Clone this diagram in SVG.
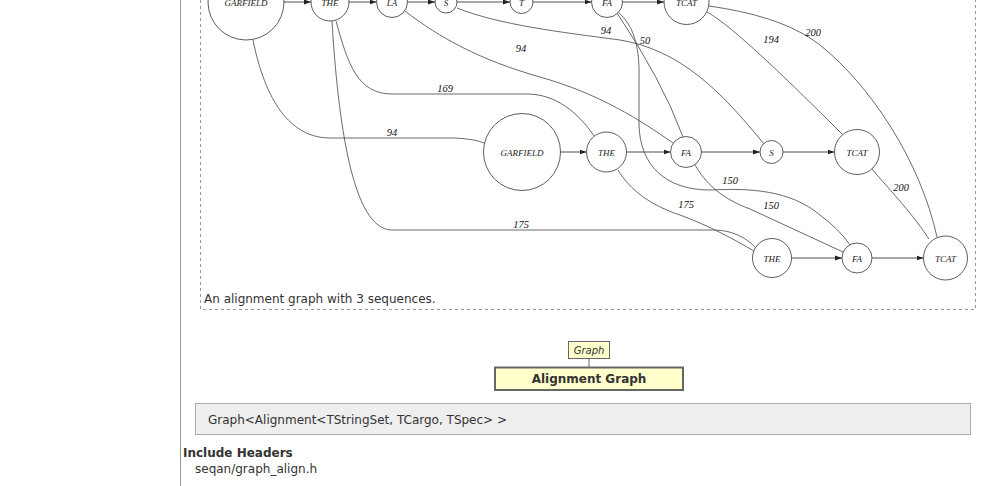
<svg xmlns="http://www.w3.org/2000/svg" width="1008" height="486" viewBox="0 0 1008 486">
<defs>
<style>
.n circle{fill:#fff;stroke:#333;stroke-width:0.8}
.n text{font-family:"Liberation Serif",serif;font-style:italic;font-size:9px;fill:#222;text-anchor:middle}
.arr line{stroke:#222;stroke-width:0.8;marker-end:url(#ah)}
.e path{fill:none;stroke:#444;stroke-width:0.8}
.lbl{font-family:"Liberation Serif",serif;font-style:italic;font-size:10.5px;fill:#111;text-anchor:middle}
.sans{font-family:"DejaVu Sans",Verdana,sans-serif;fill:#333}
</style>
<marker id="ah" markerWidth="7" markerHeight="6" refX="7" refY="3" orient="auto" markerUnits="userSpaceOnUse">
<path d="M0,0.5 L7,3 L0,5.5 Z" fill="#222"/>
</marker>
</defs>
<rect width="1008" height="486" fill="#fff"/>
<line x1="180.5" y1="0" x2="180.5" y2="486" stroke="#999" stroke-width="1"/>
<path d="M200.5,0 V309.5 H975.5 V0" fill="none" stroke="#999" stroke-dasharray="3,3"/>

<g id="connectors">
<g class="arr">
<line x1="284" y1="2" x2="311" y2="2"/>
<line x1="349" y1="2" x2="376.5" y2="2"/>
<line x1="407.5" y1="2" x2="435" y2="2"/>
<line x1="457" y1="2" x2="510" y2="2"/>
<line x1="533" y1="2" x2="591.5" y2="2"/>
<line x1="622.5" y1="2" x2="664" y2="2"/>
<line x1="560.5" y1="152" x2="586.5" y2="152"/>
<line x1="626.5" y1="152" x2="670.5" y2="152"/>
<line x1="701.5" y1="152" x2="760" y2="152"/>
<line x1="783" y1="152" x2="834.5" y2="152"/>
<line x1="791.5" y1="258" x2="842" y2="258"/>
<line x1="872" y1="258" x2="923.5" y2="258"/>
</g>
<g class="e">
<path d="M253,40 C265,100 290,138 330,138 L455,138 Q475,139 484,143"/>
<path d="M336,21 C348,65 358,94 392,94 L527,94 C555,94 578,112 594,136"/>
<path d="M332,21 C338,120 352,230 392,230 L713,230 C735,230 748,240 755,247"/>
<path d="M405,11 C440,38 480,60 540,77 S640,120 673,143"/>
<path d="M457,8 C500,25 560,32 620,40 C680,50 720,90 764,144"/>
<path d="M617,13 Q662,80 683,137"/>
<path d="M618,12 C633,25 640,45 639,80 L639,125 C640,165 665,190 710,190 C750,188 790,190 820,215 Q840,230 850,245"/>
<path d="M695,165 C705,182 720,198 750,209 L843,252"/>
<path d="M618,170 C630,190 650,205 680,215 C710,226 735,240 754,251"/>
<path d="M707,12 C725,22 760,52 842,134"/>
<path d="M709,6 C750,12 790,22 820,45 C870,85 920,160 937,237"/>
<path d="M872,169 C885,185 910,210 929,239"/>
</g>
<g>
<text class="lbl" x="392" y="136">94</text>
<text class="lbl" x="445" y="92">169</text>
<text class="lbl" x="521" y="228">175</text>
<text class="lbl" x="521" y="52">94</text>
<text class="lbl" x="606" y="34">94</text>
<text class="lbl" x="645" y="44">50</text>
<text class="lbl" x="771" y="43">194</text>
<text class="lbl" x="813" y="36">200</text>
<text class="lbl" x="730" y="184">150</text>
<text class="lbl" x="771" y="209">150</text>
<text class="lbl" x="686" y="208">175</text>
<text class="lbl" x="901" y="191">200</text>
</g>
</g>

<g id="n_t_garfield" class="n"><circle cx="246" cy="2" r="38"/><text x="246" y="6">GARFIELD</text></g>
<g id="n_t_the" class="n"><circle cx="330" cy="2" r="19"/><text x="330" y="6">THE</text></g>
<g id="n_t_la" class="n"><circle cx="392" cy="2" r="15.5"/><text x="392" y="6">LA</text></g>
<g id="n_t_s" class="n"><circle cx="446" cy="2" r="11"/><text x="446" y="6">S</text></g>
<g id="n_t_t" class="n"><circle cx="521.5" cy="2" r="11.5"/><text x="521.5" y="6">T</text></g>
<g id="n_t_fa" class="n"><circle cx="607" cy="2" r="15.5"/><text x="607" y="6">FA</text></g>
<g id="n_t_tcat" class="n"><circle cx="686.5" cy="2" r="22.5"/><text x="686.5" y="6">TCAT</text></g>

<g id="n_m_garfield" class="n"><circle cx="522" cy="152" r="38.5"/><text x="522" y="155.5">GARFIELD</text></g>
<g id="n_m_the" class="n"><circle cx="606.5" cy="152" r="20"/><text x="606.5" y="155.5">THE</text></g>
<g id="n_m_fa" class="n"><circle cx="686" cy="152" r="15.5"/><text x="686" y="155.5">FA</text></g>
<g id="n_m_s" class="n"><circle cx="771.5" cy="152" r="11.5"/><text x="771.5" y="155.5">S</text></g>
<g id="n_m_tcat" class="n"><circle cx="857" cy="152" r="22.5"/><text x="857" y="155.5">TCAT</text></g>

<g id="n_b_the" class="n"><circle cx="772" cy="258" r="19.5"/><text x="772" y="261.5">THE</text></g>
<g id="n_b_fa" class="n"><circle cx="857" cy="258" r="15"/><text x="857" y="261.5">FA</text></g>
<g id="n_b_tcat" class="n"><circle cx="945.5" cy="258" r="22"/><text x="945.5" y="261.5">TCAT</text></g>

<text class="sans" x="204" y="302.5" font-size="12">An alignment graph with 3 sequences.</text>

<g id="graph_box">
<rect x="568.5" y="341.5" width="41" height="17" fill="#ffffcc" stroke="#666"/>
<text class="sans" x="589" y="354" font-size="10" font-style="italic" text-anchor="middle" fill="#222">Graph</text>
</g>
<line x1="589" y1="358.5" x2="589" y2="367" stroke="#666"/>
<g id="alignment_graph_box">
<rect x="495" y="367.5" width="188" height="22.5" fill="#ffffcc" stroke="#666" stroke-width="2"/>
<text class="sans" x="589" y="383" font-size="12" font-weight="bold" text-anchor="middle" fill="#444">Alignment Graph</text>
</g>
<rect x="195.5" y="403.5" width="775" height="31" fill="#eeeeee" stroke="#aaa"/>
<text class="sans" x="208" y="423.5" font-size="12">Graph&lt;Alignment&lt;TStringSet, TCargo, TSpec&gt; &gt;</text>
<text class="sans" x="183" y="457" font-size="12" font-weight="bold">Include Headers</text>
<text class="sans" x="195" y="472.5" font-size="12">seqan/graph_align.h</text>
</svg>
